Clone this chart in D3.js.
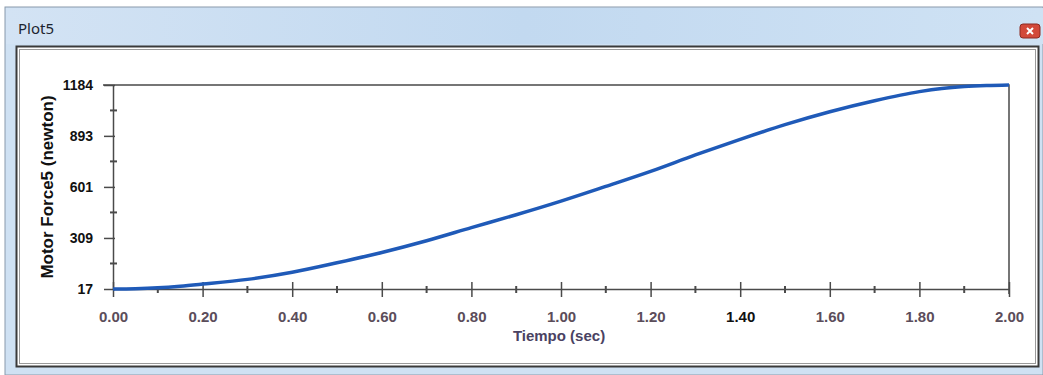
<!DOCTYPE html>
<html>
<head>
<meta charset="utf-8">
<script src="https://cdn.jsdelivr.net/npm/d3@7.9.0/dist/d3.min.js"></script>
<style>
  body { margin: 0; background: #fff; }
  svg { display: block; font-family: "Liberation Sans", Arial, sans-serif; }
</style>
</head>
<body>
<svg id="chart" width="1043" height="375"></svg>
<script>
// Motor force over time
const time  = [0, 0.05, 0.1, 0.15, 0.2, 0.3, 0.4, 0.5, 0.6, 0.7, 0.8, 0.9, 1.0, 1.1, 1.2, 1.3, 1.4, 1.5, 1.6, 1.7, 1.8, 1.85, 1.9, 1.95, 2.0];
const force = [17, 19, 24, 33, 45, 72, 113, 167, 226, 293, 368, 442, 520, 604, 690, 784, 873, 957, 1031, 1094, 1146, 1164, 1175, 1181, 1184];

const xTicks = [0, 0.2, 0.4, 0.6, 0.8, 1.0, 1.2, 1.4, 1.6, 1.8, 2.0];
const xMinor = [0.1, 0.3, 0.5, 0.7, 0.9, 1.1, 1.3, 1.5, 1.7, 1.9];
const yTicks = [17, 309, 601, 893, 1184];
const yMinor = [163, 455, 747, 1038.5];

const W = 1043, H = 375;
const m = { left: 113, right: 34, top: 85, bottom: 86 };

const svg = d3.select('#chart');

// window frame
svg.append('rect').attr('x', 5).attr('y', 7).attr('width', W - 5).attr('height', H - 7)
  .attr('fill', '#cfe1f3').attr('stroke', '#8a9aab').attr('stroke-width', 1);

const grad = svg.append('defs').append('linearGradient').attr('id', 'tb')
  .attr('x1', 0).attr('x2', 1).attr('y1', 0).attr('y2', 0);
grad.append('stop').attr('offset', '0%').attr('stop-color', '#d3e3f4');
grad.append('stop').attr('offset', '50%').attr('stop-color', '#c2d9f0');
grad.append('stop').attr('offset', '100%').attr('stop-color', '#cfe2f4');
svg.append('rect').attr('x', 6).attr('y', 8).attr('width', W - 6).attr('height', 36).attr('fill', 'url(#tb)');

svg.append('text').attr('x', 18).attr('y', 34).attr('font-family', '"Noto Sans", "Open Sans", sans-serif')
  .attr('font-size', 15).attr('fill', '#1c2430').text('Plot5');

// close button
const cb = svg.append('g').attr('transform', 'translate(1020,24)');
cb.append('rect').attr('width', 20).attr('height', 14).attr('rx', 3)
  .attr('fill', '#d2493a').attr('stroke', '#8c2a22');
cb.append('path').attr('d', 'M7,4 L13,10 M13,4 L7,10').attr('stroke', '#fff').attr('stroke-width', 2);

// inner panel
svg.append('rect').attr('x', 16.5).attr('y', 46.5).attr('width', 1022).attr('height', 320)
  .attr('fill', '#fff').attr('stroke', '#3a3a3a').attr('stroke-width', 2);
svg.append('rect').attr('x', 19.5).attr('y', 49.5).attr('width', 1016).attr('height', 314)
  .attr('fill', 'none').attr('stroke', '#9a9a9a').attr('stroke-width', 1);

const x = d3.scaleLinear().domain([0, 2]).range([m.left, W - m.right]);
const y = d3.scaleLinear().domain([17, 1184]).range([H - m.bottom, m.top]);

const axisColor = '#4a4a4a';

// frame top/right
svg.append('path')
  .attr('d', `M${x(0) - 10},${y(1184)} H${x(2)} V${y(17) + 5}`)
  .attr('fill', 'none').attr('stroke', axisColor).attr('stroke-width', 1.5);

// x axis
const xAxis = svg.append('g').attr('transform', `translate(0,${y(17)})`)
  .call(d3.axisBottom(x).tickValues(xTicks).tickSize(0).tickPadding(22).tickFormat(d3.format('.2f')));
xAxis.select('.domain').attr('stroke', axisColor).attr('stroke-width', 1.5);
xAxis.selectAll('.tick text').attr('font-size', 15).attr('font-weight', 'bold')
  .attr('fill', d => d === 1.4 ? '#111' : '#5b4d5a');
xAxis.selectAll('.tick').append('line').attr('y1', -7).attr('y2', 8)
  .attr('stroke', axisColor).attr('stroke-width', 1.5);
xAxis.selectAll('.minor').data(xMinor).join('line').attr('class', 'minor')
  .attr('x1', d => x(d)).attr('x2', d => x(d)).attr('y1', -3).attr('y2', 4)
  .attr('stroke', axisColor).attr('stroke-width', 2);

// y axis
const yAxis = svg.append('g').attr('transform', `translate(${x(0)},0)`)
  .call(d3.axisLeft(y).tickValues(yTicks).tickSize(0).tickPadding(20).tickFormat(d3.format('d')));
yAxis.select('.domain').attr('stroke', axisColor).attr('stroke-width', 1.5);
yAxis.selectAll('.tick text').attr('font-size', 14).attr('font-weight', 'bold').attr('fill', '#111');
yAxis.selectAll('.tick').append('line').attr('x1', -9).attr('x2', 2)
  .attr('stroke', axisColor).attr('stroke-width', 1.5);
yAxis.selectAll('.minor').data(yMinor).join('line').attr('class', 'minor')
  .attr('y1', d => y(d)).attr('y2', d => y(d)).attr('x1', -3).attr('x2', 4)
  .attr('stroke', axisColor).attr('stroke-width', 2);

// titles
svg.append('text').attr('x', (x(0) + x(2)) / 2 - 2).attr('y', 341).attr('text-anchor', 'middle')
  .attr('font-size', 15).attr('font-weight', 'bold').attr('fill', '#4a4262').text('Tiempo (sec)');
svg.append('text').attr('transform', `translate(53,${(y(17) + y(1184)) / 2}) rotate(-90)`)
  .attr('text-anchor', 'middle').attr('font-size', 17).attr('font-weight', 'bold').attr('fill', '#111')
  .text('Motor Force5 (newton)');

// series
const line = d3.line().x((d, i) => x(time[i])).y(d => y(d)).curve(d3.curveMonotoneX);
svg.append('path').datum(force).attr('d', line)
  .attr('fill', 'none').attr('stroke', '#1f5ab8').attr('stroke-width', 3.5).attr('stroke-linejoin', 'round');
</script>
</body>
</html>
